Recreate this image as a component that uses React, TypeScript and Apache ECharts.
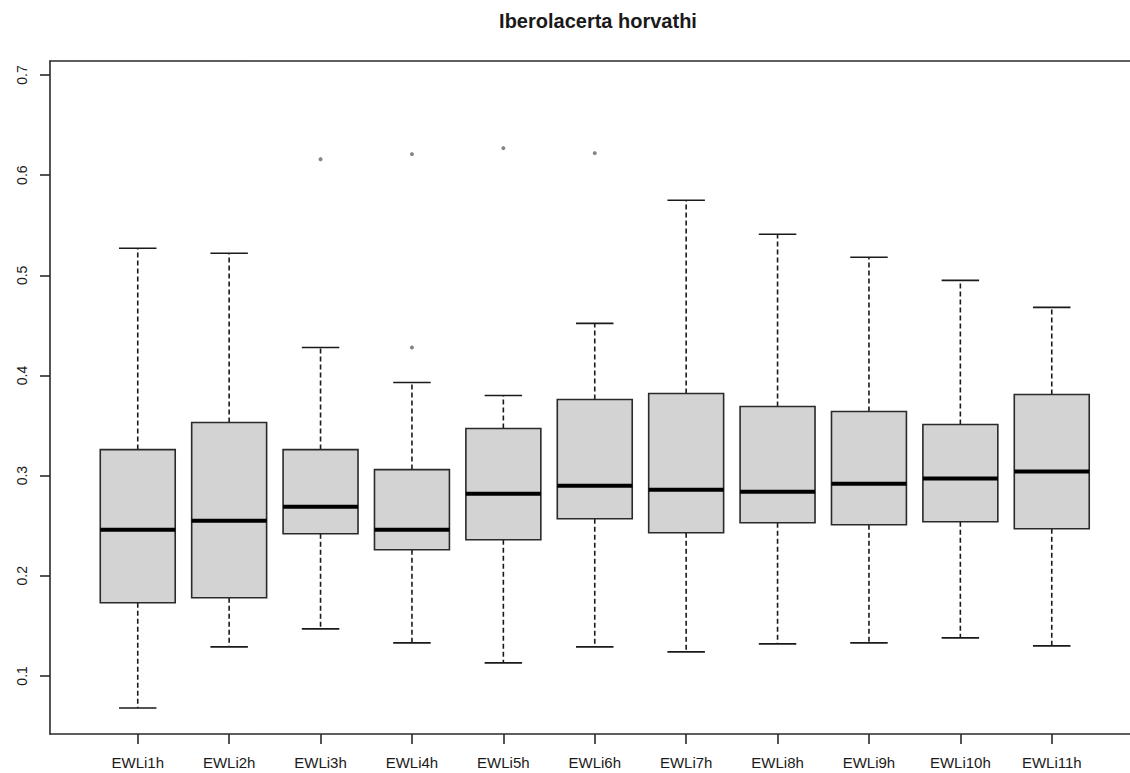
import React, { useEffect, useRef } from "react";
import * as echarts from "echarts";

const categories = ["EWLi1h", "EWLi2h", "EWLi3h", "EWLi4h", "EWLi5h", "EWLi6h", "EWLi7h", "EWLi8h", "EWLi9h", "EWLi10h", "EWLi11h"];
const lowerWhisker = [0.068, 0.129, 0.147, 0.133, 0.113, 0.129, 0.124, 0.132, 0.133, 0.138, 0.130];
const q1 = [0.173, 0.178, 0.242, 0.226, 0.236, 0.257, 0.243, 0.253, 0.251, 0.254, 0.247];
const median = [0.246, 0.255, 0.269, 0.246, 0.282, 0.290, 0.286, 0.284, 0.292, 0.297, 0.304];
const q3 = [0.326, 0.353, 0.326, 0.306, 0.347, 0.376, 0.382, 0.369, 0.364, 0.351, 0.381];
const upperWhisker = [0.527, 0.522, 0.428, 0.393, 0.380, 0.452, 0.575, 0.541, 0.518, 0.495, 0.468];
const outlierGroup = [3, 4, 4, 5, 6];
const outlierValue = [0.616, 0.621, 0.428, 0.627, 0.622];
const yTicks = [0.1, 0.2, 0.3, 0.4, 0.5, 0.6, 0.7];
const xTicks = [1, 2, 3, 4, 5, 6, 7, 8, 9, 10, 11];

const FONT = "'Liberation Sans', Arial, sans-serif";
const AX = "#2a2a2a";

export default function App() {
  const ref = useRef<HTMLDivElement>(null);
  useEffect(() => {
    document.body.style.margin = "0";
    const chart = echarts.init(ref.current!, null, { renderer: "svg" });
    const boxData = categories.map((c, i) => [i + 1, lowerWhisker[i], q1[i], median[i], q3[i], upperWhisker[i]]);
    const outData = outlierGroup.map((g, i) => [g, outlierValue[i]]);
    const xMin = 0.04;
    const xMax = 11.856;
    const option: any = {
      animation: false,
      backgroundColor: "#ffffff",
      title: {
        text: "Iberolacerta horvathi",
        left: 593,
        textAlign: "center",
        top: 6,
        textStyle: { fontFamily: FONT, fontSize: 20, fontWeight: "bold", color: "#1a1a1a" },
      },
      grid: {
        left: 50,
        top: 61,
        right: 0,
        height: 673,
        show: false,
      },
      xAxis: [
        {
          type: "value",
          min: xMin,
          max: xMax,
          position: "bottom",
          splitLine: { show: false },
          axisLine: { show: true, onZero: false, lineStyle: { color: AX, width: 1.6 } },
          axisTick: { show: true, length: 10, lineStyle: { color: AX, width: 1.6 }, customValues: xTicks },
          axisLabel: {
            customValues: xTicks,
            formatter: (v: number) => categories[Math.round(v) - 1] ?? "",
            margin: 21,
            fontFamily: FONT,
            fontSize: 15,
            color: "#1a1a1a",
          },
        },
        {
          type: "value",
          min: xMin,
          max: xMax,
          position: "top",
          splitLine: { show: false },
          axisLine: { show: true, onZero: false, lineStyle: { color: AX, width: 1.6 } },
          axisTick: { show: false },
          axisLabel: { show: false },
        },
      ],
      yAxis: {
        type: "value",
        min: 0.042,
        max: 0.714,
        splitLine: { show: false },
        axisLine: { show: true, onZero: false, lineStyle: { color: AX, width: 1.6 } },
        axisTick: { show: true, length: 10, lineStyle: { color: AX, width: 1.6 }, customValues: yTicks },
        axisLabel: {
          customValues: yTicks,
          formatter: (v: number) => v.toFixed(1),
          rotate: 90,
          margin: 21,
          fontFamily: FONT,
          fontSize: 14,
          color: "#1a1a1a",
        },
      },
      series: [
        {
          type: "custom",
          xAxisIndex: 0,
          data: boxData,
          encode: { x: 0, y: [1, 2, 3, 4, 5] },
          renderItem: (params: any, api: any) => {
            const x = api.value(0);
            const pLo = api.coord([x, api.value(1)]);
            const pQ1 = api.coord([x, api.value(2)]);
            const pMed = api.coord([x, api.value(3)]);
            const pQ3 = api.coord([x, api.value(4)]);
            const pHi = api.coord([x, api.value(5)]);
            const cx = pMed[0];
            const half = api.size([0.82, 0])[0] / 2;
            const capHalf = half / 2;
            const dash = { stroke: "#1a1a1a", lineWidth: 1.6, lineDash: [5, 3], fill: null };
            const solid = { stroke: "#1a1a1a", lineWidth: 1.6, fill: null };
            return {
              type: "group",
              children: [
                { type: "line", shape: { x1: cx, y1: pQ3[1], x2: cx, y2: pHi[1] }, style: dash },
                { type: "line", shape: { x1: cx, y1: pQ1[1], x2: cx, y2: pLo[1] }, style: dash },
                { type: "line", shape: { x1: cx - capHalf, y1: pHi[1], x2: cx + capHalf, y2: pHi[1] }, style: solid },
                { type: "line", shape: { x1: cx - capHalf, y1: pLo[1], x2: cx + capHalf, y2: pLo[1] }, style: solid },
                {
                  type: "rect",
                  shape: { x: cx - half, y: pQ3[1], width: half * 2, height: pQ1[1] - pQ3[1] },
                  style: { fill: "#d3d3d3", stroke: AX, lineWidth: 1.6 },
                },
                { type: "line", shape: { x1: cx - half, y1: pMed[1], x2: cx + half, y2: pMed[1] }, style: { stroke: "#000", lineWidth: 4 } },
              ],
            };
          },
        },
        {
          type: "scatter",
          xAxisIndex: 0,
          data: outData,
          symbol: "circle",
          symbolSize: 4,
          itemStyle: { color: "#666" },
        },
      ],
    };
    chart.setOption(option);
    return () => chart.dispose();
  }, []);
  return <div ref={ref} style={{ width: 1130, height: 773 }} />;
}
